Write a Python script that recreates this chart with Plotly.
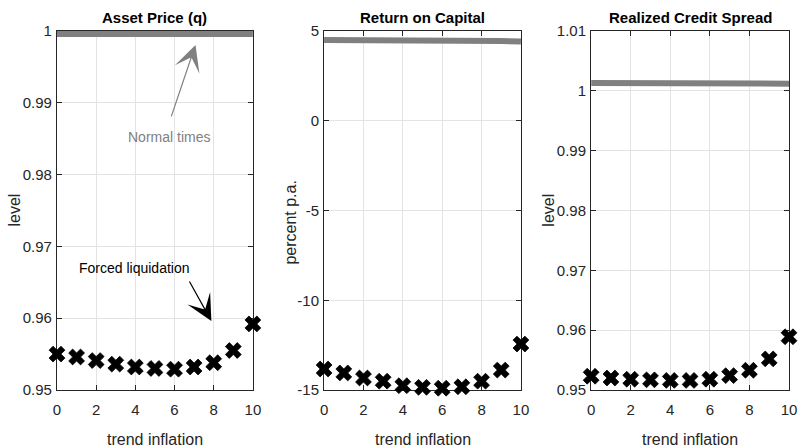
import plotly.graph_objects as go

# ---- data -------------------------------------------------------------
trend_inflation = [0, 1, 2, 3, 4, 5, 6, 7, 8, 9, 10]

asset_price_normal = [1.0, 1.0, 1.0, 1.0, 1.0, 1.0, 1.0, 1.0, 1.0, 1.0, 1.0]
asset_price_forced = [0.9550, 0.9546, 0.9541, 0.9536, 0.9532, 0.9530,
                      0.9529, 0.9532, 0.9538, 0.9555, 0.9592]

return_normal = [4.50, 4.50, 4.50, 4.50, 4.49, 4.49, 4.48, 4.47, 4.46, 4.44, 4.41]
return_forced = [-13.83, -14.05, -14.33, -14.51, -14.76, -14.85,
                 -14.90, -14.82, -14.51, -13.89, -12.44]

spread_normal = [1.0013, 1.0013, 1.0013, 1.0013, 1.0013, 1.0013,
                 1.0013, 1.0013, 1.0012, 1.0012, 1.0012]
spread_forced = [0.9523, 0.9520, 0.9518, 0.9517, 0.9516, 0.9516,
                 0.9518, 0.9524, 0.9533, 0.9552, 0.9589]

panel_titles = ["Asset Price (q)", "Return on Capital", "Realized Credit Spread"]
y_titles = ["level", "percent p.a.", "level"]
x_title = "trend inflation"

x_ticks = [0, 2, 4, 6, 8, 10]
y_ticks = [
    [0.95, 0.96, 0.97, 0.98, 0.99, 1.0],
    [-15, -10, -5, 0, 5],
    [0.95, 0.96, 0.97, 0.98, 0.99, 1.0, 1.01],
]
y_tick_text = [
    ["0.95", "0.96", "0.97", "0.98", "0.99", "1"],
    ["-15", "-10", "-5", "0", "5"],
    ["0.95", "0.96", "0.97", "0.98", "0.99", "1", "1.01"],
]
y_ranges = [[0.95, 1.0], [-15, 5], [0.95, 1.01]]

normal_series = [asset_price_normal, return_normal, spread_normal]
forced_series = [asset_price_forced, return_forced, spread_forced]

# ---- layout geometry --------------------------------------------------
FIG_W, FIG_H = 805, 448
M_L, M_R, M_T, M_B = 57, 8, 28, 58
PLOT_H = FIG_H - M_T - M_B              # height of the paper area
AXES_H = 359                            # height of each panel's frame
y_top = AXES_H / PLOT_H                 # panel frames end a few px below paper top
domains = [[0.0, 0.2676], [0.3649, 0.6338], [0.7297, 1.0]]

# ---- styling ----------------------------------------------------------
FONT = "Liberation Sans, Arial, sans-serif"
AXIS_COLOR = "#262626"
GRID_COLOR = "#e3e3e3"
NORMAL_COLOR = "#808080"

fig = go.Figure()

for i in range(3):
    sfx = "" if i == 0 else str(i + 1)
    # the flat q = 1 line sits on the top frame, so it goes on a taller
    # overlay axis with the same scale to avoid being clipped in half
    normal_yaxis = "y4" if i == 0 else "y" + sfx
    fig.add_trace(go.Scatter(
        x=trend_inflation, y=normal_series[i], mode="lines",
        line=dict(color=NORMAL_COLOR, width=6),
        xaxis="x" + sfx, yaxis=normal_yaxis, showlegend=False,
    ))
    fig.add_trace(go.Scatter(
        x=trend_inflation, y=forced_series[i], mode="markers",
        marker=dict(symbol="x", size=14, color="black",
                    line=dict(color="black", width=0.8)),
        cliponaxis=False,
        xaxis="x" + sfx, yaxis="y" + sfx, showlegend=False,
    ))

    common = dict(
        showline=True, linecolor=AXIS_COLOR, linewidth=1.2, mirror="ticks",
        ticks="inside", ticklen=5, tickwidth=1, tickcolor=AXIS_COLOR,
        showgrid=True, gridcolor=GRID_COLOR, gridwidth=1, zeroline=False,
        tickfont=dict(family=FONT, size=15, color=AXIS_COLOR),
    )
    fig.update_layout(**{
        "xaxis" + sfx: dict(common, domain=domains[i], range=[0, 10],
                            tickvals=x_ticks, anchor="y" + sfx,
                            ticklabelstandoff=6, layer="below traces"),
        "yaxis" + sfx: dict(common, domain=[0, y_top], range=y_ranges[i],
                            tickvals=y_ticks[i], ticktext=y_tick_text[i],
                            anchor="x" + sfx, ticklabelstandoff=1,
                            layer="below traces"),
    })

    xr = "x" + sfx + " domain"
    yr = "y" + sfx + " domain"
    # panel title
    fig.add_annotation(text="<b>" + panel_titles[i] + "</b>", xref=xr, yref=yr,
                       x=0.5, y=1, yshift=14, xanchor="center", yanchor="middle",
                       showarrow=False,
                       font=dict(family=FONT, size=15, color="black"))
    # x axis title
    fig.add_annotation(text=x_title, xref=xr, yref=yr, x=0.5, y=0, yshift=-49,
                       xanchor="center", yanchor="middle", showarrow=False,
                       font=dict(family=FONT, size=16, color=AXIS_COLOR))
    # y axis title
    fig.add_annotation(text=y_titles[i], xref=xr, yref=yr, x=0, y=0.5,
                       xshift=-43 if i != 1 else -34, yshift=0 if i != 1 else -12,
                       xanchor="center", yanchor="middle", textangle=-90,
                       showarrow=False,
                       font=dict(family=FONT, size=16, color=AXIS_COLOR))

# overlay axis for the first panel: same pixels per unit, extended to the paper top
q_lo, q_hi = y_ranges[0]
fig.update_layout(yaxis4=dict(
    overlaying="y", domain=[0, 1], visible=False, anchor="x",
    range=[q_lo, q_lo + (q_hi - q_lo) / y_top],
))

# callouts in the asset price panel
fig.add_annotation(text="", xref="x", yref="y", axref="x", ayref="y",
                   x=7.07, y=0.99806, ax=5.81, ay=0.98790,
                   showarrow=True, arrowhead=3, arrowsize=3.6, arrowwidth=1.2,
                   arrowcolor=NORMAL_COLOR)
fig.add_annotation(text="Normal times", xref="x", yref="y", x=5.7, y=0.9853,
                   showarrow=False,
                   font=dict(family=FONT, size=14, color=NORMAL_COLOR))
fig.add_annotation(text="", xref="x", yref="y", axref="x", ayref="y",
                   x=7.88, y=0.95961, ax=6.72, ay=0.96532,
                   showarrow=True, arrowhead=3, arrowsize=3.6, arrowwidth=1.2,
                   arrowcolor="black")
fig.add_annotation(text="Forced liquidation", xref="x", yref="y", x=3.94, y=0.96699,
                   showarrow=False,
                   font=dict(family=FONT, size=14, color="black"))

fig.update_layout(
    width=FIG_W, height=FIG_H,
    margin=dict(l=M_L, r=M_R, t=M_T, b=M_B),
    paper_bgcolor="white", plot_bgcolor="white",
)

fig.write_html("out.html")
